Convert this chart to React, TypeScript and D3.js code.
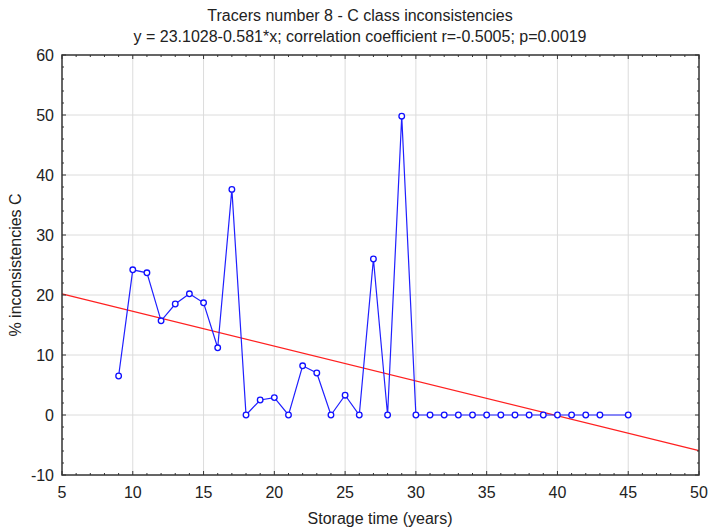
import React from "react";
import * as d3 from "d3";

const years = [9, 10, 11, 12, 13, 14, 15, 16, 17, 18, 19, 20, 21, 22, 23, 24, 25, 26, 27, 28, 29, 30, 31, 32, 33, 34, 35, 36, 37, 38, 39, 40, 41, 42, 43, 45];
const values = [6.5, 24.2, 23.7, 15.7, 18.5, 20.2, 18.7, 11.2, 37.6, 0, 2.5, 2.9, 0, 8.2, 7, 0, 3.3, 0, 26, 0, 49.8, 0, 0, 0, 0, 0, 0, 0, 0, 0, 0, 0, 0, 0, 0, 0];
const xTicks = [5, 10, 15, 20, 25, 30, 35, 40, 45, 50];
const yTicks = [-10, 0, 10, 20, 30, 40, 50, 60];
const fitIntercept = 23.1028;
const fitSlope = -0.581;

const W = 710;
const H = 529;
const left = 62;
const right = 699;
const top = 55;
const bottom = 475;

const App: React.FC = () => {
    const x = d3.scaleLinear().domain([5, 50]).range([left, right]);
    const y = d3.scaleLinear().domain([-10, 60]).range([bottom, top]);

    const pts = years.map((yr, i) => [yr, values[i]] as [number, number]);
    const line = d3.line<[number, number]>()
        .x(d => x(d[0]))
        .y(d => y(d[1]));

    const xMinor = d3.range(5, 51, 1).filter(v => v % 5 !== 0);
    const yMinor = d3.range(-10, 61, 2).filter(v => v % 10 !== 0);

    const font = "'Liberation Sans', Arial, sans-serif";
    const axisColor = "#333";

    return (
        <svg width={W} height={H} style={{ position: "absolute", left: 0, top: 0, background: "#fff" }} fontFamily={font}>
            <rect x={0} y={0} width={W} height={H} fill="#fff" />
            {/* grid */}
            {xTicks.slice(1, -1).map(t => (
                <line key={"gx" + t} x1={x(t)} x2={x(t)} y1={top} y2={bottom} stroke="#dcdcdc" strokeWidth={1} />
            ))}
            {yTicks.slice(1, -1).map(t => (
                <line key={"gy" + t} x1={left} x2={right} y1={y(t)} y2={y(t)} stroke="#dcdcdc" strokeWidth={1} />
            ))}

            {/* regression */}
            <line
                x1={x(5)} y1={y(fitIntercept + fitSlope * 5)}
                x2={x(50)} y2={y(fitIntercept + fitSlope * 50)}
                stroke="#ff2020" strokeWidth={1.2}
            />

            {/* series */}
            <path d={line(pts) ?? ""} fill="none" stroke="#2020ff" strokeWidth={1.2} />
            {pts.map((p, i) => (
                <circle key={i} cx={x(p[0])} cy={y(p[1])} r={2.8} fill="#fff" stroke="#1010ff" strokeWidth={1.3} />
            ))}

            {/* frame */}
            <rect x={left} y={top} width={right - left} height={bottom - top} fill="none" stroke={axisColor} strokeWidth={1.5} />

            {/* ticks */}
            {xTicks.map(t => (
                <g key={"xt" + t}>
                    <line x1={x(t)} x2={x(t)} y1={bottom} y2={bottom - 4} stroke={axisColor} />
                    <line x1={x(t)} x2={x(t)} y1={top} y2={top + 4} stroke={axisColor} />
                    <text x={x(t)} y={498} textAnchor="middle" fontSize={16} fill="#222">{t}</text>
                </g>
            ))}
            {xMinor.map(t => (
                <g key={"xm" + t}>
                    <line x1={x(t)} x2={x(t)} y1={bottom} y2={bottom - 2} stroke={axisColor} />
                    <line x1={x(t)} x2={x(t)} y1={top} y2={top + 2} stroke={axisColor} />
                </g>
            ))}
            {yTicks.map(t => (
                <g key={"yt" + t}>
                    <line x1={left} x2={left + 4} y1={y(t)} y2={y(t)} stroke={axisColor} />
                    <line x1={right} x2={right - 4} y1={y(t)} y2={y(t)} stroke={axisColor} />
                    <text x={54} y={y(t) + 6} textAnchor="end" fontSize={16} fill="#222">{t}</text>
                </g>
            ))}
            {yMinor.map(t => (
                <g key={"ym" + t}>
                    <line x1={left} x2={left + 2} y1={y(t)} y2={y(t)} stroke={axisColor} />
                    <line x1={right} x2={right - 2} y1={y(t)} y2={y(t)} stroke={axisColor} />
                </g>
            ))}

            {/* titles */}
            <text x={360} y={21} textAnchor="middle" fontSize={16} fill="#222">Tracers number 8 - C class inconsistencies</text>
            <text x={360} y={42} textAnchor="middle" fontSize={16} fill="#222">y = 23.1028-0.581*x; correlation coefficient r=-0.5005; p=0.0019</text>
            <text x={380} y={524} textAnchor="middle" fontSize={16} fill="#222">Storage time (years)</text>
            <text transform={`translate(21,${(top + bottom) / 2}) rotate(-90)`} textAnchor="middle" fontSize={16} fill="#222">% inconsistencies C</text>
        </svg>
    );
};

export default App;
